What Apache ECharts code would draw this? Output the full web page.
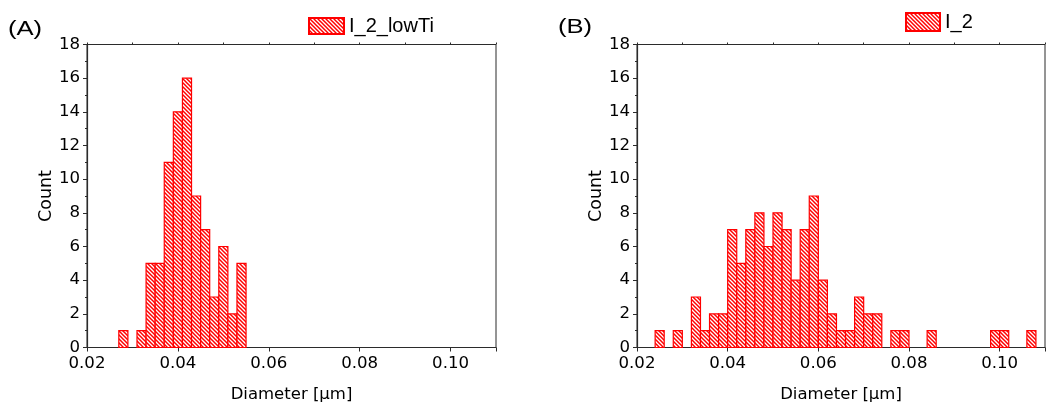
<!DOCTYPE html>
<html><head><meta charset="utf-8">
<script src="https://cdn.jsdelivr.net/npm/echarts@6/dist/echarts.min.js"></script>
<style>html,body{margin:0;padding:0;background:#fff}#c{width:1048px;height:410px}</style>
</head><body><div id="c"></div>
<script>
// ---- data ----
const BIN_WIDTH = 0.002;
const xTickLabels = ['0.02', '0.04', '0.06', '0.08', '0.10'];
const yTickLabels = ['0', '2', '4', '6', '8', '10', '12', '14', '16', '18'];
const seriesNames = ['I_2_lowTi', 'I_2'];
const panelLabels = ['(A)', '(B)'];
const xAxisTitle = 'Diameter [\u03bcm]';
const yAxisTitle = 'Count';

const leftCenters = [0.028, 0.032, 0.034, 0.036, 0.038, 0.040, 0.042, 0.044, 0.046, 0.048, 0.050, 0.052, 0.054];
const leftCounts  = [1, 1, 5, 5, 11, 14, 16, 9, 7, 3, 6, 2, 5];

const rightCenters = [0.025, 0.029, 0.033, 0.035, 0.037, 0.039, 0.041, 0.043, 0.045, 0.047, 0.049, 0.051, 0.053, 0.055, 0.057, 0.059, 0.061, 0.063, 0.065, 0.067, 0.069, 0.071, 0.073, 0.077, 0.079, 0.085, 0.099, 0.101, 0.107];
const rightCounts  = [1, 1, 3, 1, 2, 2, 7, 5, 7, 8, 6, 8, 7, 4, 7, 9, 4, 2, 1, 1, 3, 2, 2, 1, 1, 1, 1, 1, 1];

// ---- styling helpers ----
function makeHatch() {
  const p = 4, c = document.createElement('canvas');
  c.width = p; c.height = p;
  const ctx = c.getContext('2d');
  ctx.fillStyle = '#ffffff'; ctx.fillRect(0, 0, p, p);
  ctx.strokeStyle = '#ff0000'; ctx.lineWidth = 1.5;
  for (const o of [-p, 0, p]) {
    ctx.beginPath(); ctx.moveTo(o - 1, -1); ctx.lineTo(o + p + 1, p + 1); ctx.stroke();
  }
  return c;
}
const hatch = { image: makeHatch(), repeat: 'repeat' };
const RED = '#ff0000';
const AXC = '#2b2b2b';
const TXT = '#000000';
const TICK_FONT = 'DejaVu Sans';

function pairs(xs, ys) { return xs.map((x, i) => [x, ys[i]]); }

function renderBin(params, api) {
  const x = api.value(0), y = api.value(1);
  const p0 = api.coord([x - BIN_WIDTH / 2, y]);
  const p1 = api.coord([x + BIN_WIDTH / 2, 0]);
  return {
    type: 'rect',
    shape: { x: p0[0], y: p0[1], width: p1[0] - p0[0], height: p1[1] - p0[1] },
    style: { fill: hatch, stroke: RED, lineWidth: 1.2 }
  };
}

const grids = [
  { left: 87, top: 44.5, width: 409, height: 303, show: true, borderColor: AXC, borderWidth: 1, backgroundColor: 'transparent' },
  { left: 637, top: 44.5, width: 409, height: 303, show: true, borderColor: AXC, borderWidth: 1, backgroundColor: 'transparent' }
];

function xMajor(i) {
  return {
    type: 'value', gridIndex: i, min: 0.02, max: 0.11, interval: 0.02,
    name: xAxisTitle, nameLocation: 'middle', nameGap: 39,
    nameTextStyle: { fontFamily: TICK_FONT, fontSize: 16.5, color: TXT },
    axisLine: { show: true, lineStyle: { color: AXC, width: 1.2 } },
    axisTick: { show: true, inside: false, length: 4, lineStyle: { color: AXC } },
    axisLabel: {
      show: true, margin: 8, fontFamily: TICK_FONT, fontSize: 16.6, color: TXT,
      formatter: v => { const s = v.toFixed(2); return xTickLabels.includes(s) ? s : ''; }
    },
    splitLine: { show: false }, minorTick: { show: false }
  };
}
function xMinor(i) {
  return {
    type: 'value', gridIndex: i, min: 0.02, max: 0.11, interval: 0.01,
    axisLine: { show: false },
    axisTick: { show: true, inside: false, length: 2, lineStyle: { color: AXC } },
    axisLabel: { show: false }, splitLine: { show: false }
  };
}
function yAx(i) {
  return {
    type: 'value', gridIndex: i, min: 0, max: 18, interval: 2,
    name: yAxisTitle, nameLocation: 'middle', nameGap: 30, nameRotate: 90,
    nameTextStyle: { fontFamily: TICK_FONT, fontSize: 17.5, color: TXT },
    axisLine: { show: true, lineStyle: { color: AXC, width: 1.2 } },
    axisTick: { show: true, inside: false, length: 4, lineStyle: { color: AXC } },
    minorTick: { show: true, splitNumber: 2, length: 2, lineStyle: { color: AXC } },
    axisLabel: {
      show: true, margin: 7, fontFamily: TICK_FONT, fontSize: 16.6, color: TXT,
      formatter: v => { const s = String(Math.round(v)); return yTickLabels.includes(s) ? s : ''; }
    },
    splitLine: { show: false }
  };
}

const option = {
  animation: false,
  backgroundColor: '#ffffff',
  grid: grids,
  xAxis: [xMajor(0), xMinor(0), xMajor(1), xMinor(1)],
  yAxis: [yAx(0), yAx(1)],
  legend: [
    { left: 308, top: 16, padding: 0, itemWidth: 35, itemHeight: 16, itemGap: 5,
      data: [{ name: seriesNames[0], icon: 'rect' }],
      textStyle: { fontFamily: 'Liberation Sans', fontSize: 20, color: TXT } },
    { left: 905, top: 12, padding: 0, itemWidth: 34, itemHeight: 18, itemGap: 5,
      data: [{ name: seriesNames[1], icon: 'rect' }],
      textStyle: { fontFamily: 'Liberation Sans', fontSize: 20, color: TXT } }
  ],
  graphic: [
    { type: 'text', x: 8, y: 29, scaleX: 1.28, style: { text: panelLabels[0], font: '20px "Liberation Sans"', fill: TXT, verticalAlign: 'middle' } },
    { type: 'text', x: 558, y: 27, scaleX: 1.28, style: { text: panelLabels[1], font: '20px "Liberation Sans"', fill: TXT, verticalAlign: 'middle' } }
  ],
  series: [
    { type: 'custom', name: seriesNames[0], xAxisIndex: 0, yAxisIndex: 0,
      itemStyle: { color: hatch, borderColor: RED, borderWidth: 1.2 },
      renderItem: renderBin, encode: { x: 0, y: 1 }, data: pairs(leftCenters, leftCounts) },
    { type: 'custom', name: seriesNames[1], xAxisIndex: 2, yAxisIndex: 1,
      itemStyle: { color: hatch, borderColor: RED, borderWidth: 1.2 },
      renderItem: renderBin, encode: { x: 0, y: 1 }, data: pairs(rightCenters, rightCounts) }
  ]
};
const chart = echarts.init(document.getElementById('c'), null, { renderer: 'canvas' });
chart.setOption(option);
</script>
</body></html>
